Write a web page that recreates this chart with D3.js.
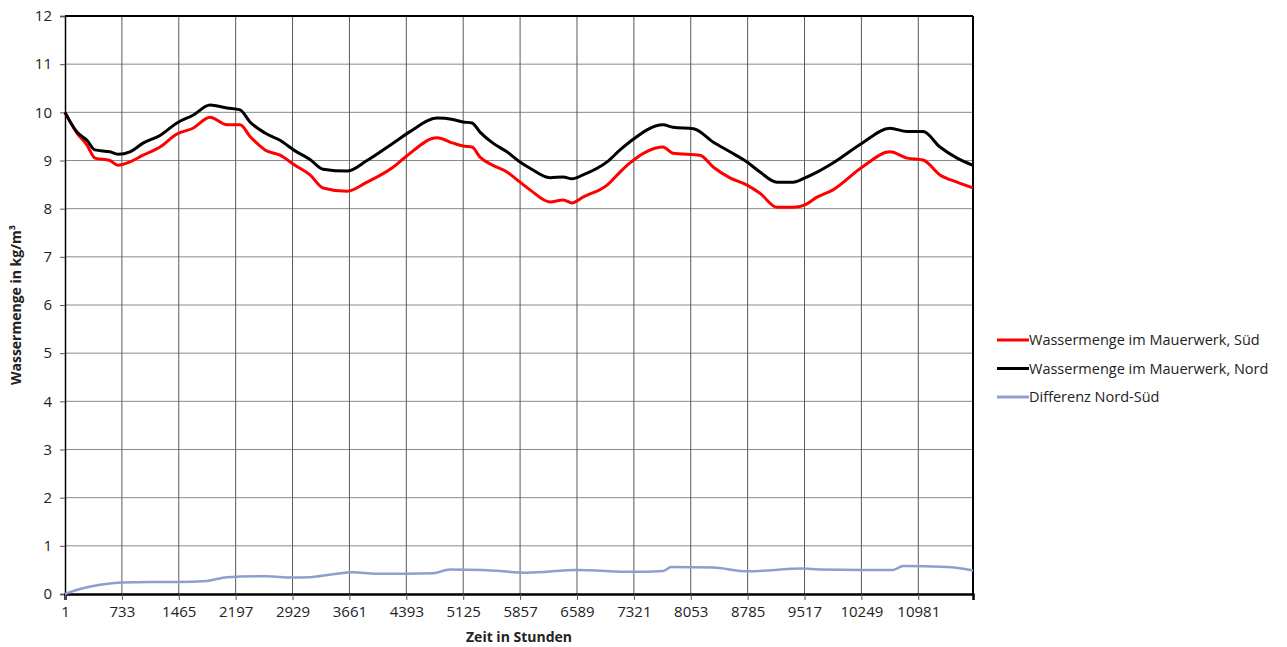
<!DOCTYPE html>
<html lang="de">
  <head>
    <meta charset="UTF-8" />
    <title>Wassermenge im Mauerwerk</title>
    <script src="https://d3js.org/d3.v7.min.js"></script>
    <style>
      body { margin: 0; background: #fff; }
      text { font-family: "Open Sans", "Noto Sans", sans-serif; fill: #222; }
    </style>
  </head>
  <body>
    <script>
      // hours and values
      var hoursSued = [1, 155, 284, 387, 580, 683, 837, 1005, 1223, 1442, 1648, 1867, 2086, 2253, 2382, 2575, 2768, 2961, 3154, 3321, 3630, 3887, 4222, 4402, 4788, 4994, 5122, 5238, 5341, 5508, 5688, 5856, 5985, 6242, 6410, 6525, 6667, 6976, 7143, 7271, 7696, 7825, 8172, 8345, 8558, 8777, 8944, 9163, 9369, 9523, 9678, 9883, 10257, 10617, 10836, 11042, 11260, 11480, 11685];
      var valuesSued = [10.0, 9.57, 9.32, 9.05, 9.0, 8.9, 8.97, 9.11, 9.28, 9.55, 9.67, 9.9, 9.74, 9.74, 9.5, 9.22, 9.11, 8.9, 8.7, 8.43, 8.36, 8.55, 8.86, 9.1, 9.47, 9.36, 9.3, 9.28, 9.07, 8.9, 8.76, 8.55, 8.39, 8.14, 8.18, 8.12, 8.24, 8.49, 8.76, 8.95, 9.28, 9.15, 9.11, 8.86, 8.64, 8.49, 8.32, 8.03, 8.03, 8.08, 8.24, 8.39, 8.86, 9.18, 9.05, 9.01, 8.7, 8.55, 8.43];

      var hoursNord = [1, 155, 284, 387, 580, 683, 837, 1005, 1223, 1442, 1648, 1867, 2086, 2253, 2382, 2575, 2768, 2961, 3154, 3321, 3630, 3887, 4222, 4440, 4788, 4994, 5122, 5238, 5341, 5508, 5688, 5856, 5985, 6242, 6410, 6525, 6667, 6976, 7143, 7271, 7696, 7825, 8090, 8345, 8558, 8777, 8944, 9163, 9369, 9523, 9678, 9883, 10257, 10617, 10836, 11042, 11260, 11480, 11685];
      var valuesNord = [10.0, 9.59, 9.42, 9.22, 9.18, 9.13, 9.18, 9.36, 9.52, 9.78, 9.94, 10.15, 10.09, 10.05, 9.8, 9.57, 9.42, 9.2, 9.02, 8.82, 8.78, 9.0, 9.36, 9.6, 9.88, 9.85, 9.8, 9.78, 9.59, 9.36, 9.18, 8.97, 8.84, 8.64, 8.66, 8.62, 8.7, 8.97, 9.22, 9.39, 9.74, 9.69, 9.66, 9.38, 9.18, 8.97, 8.76, 8.55, 8.55, 8.64, 8.76, 8.95, 9.36, 9.67, 9.6, 9.6, 9.28, 9.05, 8.9];

      var hoursDiff = [1, 65, 232, 451, 733, 1100, 1465, 1828, 2085, 2600, 2922, 3154, 3450, 3708, 4000, 4400, 4737, 4955, 5380, 5946, 6590, 7310, 7700, 7800, 8340, 8777, 9497, 9700, 10270, 10656, 10785, 11350, 11685];
      var valuesDiff = [0, 0.04, 0.12, 0.19, 0.24, 0.25, 0.25, 0.27, 0.35, 0.37, 0.34, 0.35, 0.41, 0.45, 0.42, 0.42, 0.43, 0.51, 0.5, 0.44, 0.5, 0.46, 0.48, 0.56, 0.55, 0.47, 0.53, 0.51, 0.5, 0.5, 0.58, 0.56, 0.49];

      var xTicks = [1, 733, 1465, 2197, 2929, 3661, 4393, 5125, 5857, 6589, 7321, 8053, 8785, 9517, 10249, 10981];
      var yTicks = [0, 1, 2, 3, 4, 5, 6, 7, 8, 9, 10, 11, 12];

      var seriesNames = ["Wassermenge im Mauerwerk, Süd", "Wassermenge im Mauerwerk, Nord", "Differenz Nord-Süd"];
      var seriesColors = ["#ff0000", "#000000", "#8e9fcc"];

      var margin = { top: 16, right: 314, bottom: 53, left: 65 },
        width = 1287 - margin.left - margin.right,
        height = 647 - margin.top - margin.bottom;

      var svg = d3
        .select("body")
        .append("svg")
        .attr("width", 1287)
        .attr("height", 647);

      var g = svg
        .append("g")
        .attr("transform", "translate(" + margin.left + "," + margin.top + ")");

      var x = d3.scaleLinear().domain([1, 11685]).range([0, width]);
      var y = d3.scaleLinear().domain([0, 12]).range([height, 0]);

      // gridlines
      g.append("g")
        .selectAll("line")
        .data(yTicks.slice(1))
        .enter()
        .append("line")
        .attr("x1", 0)
        .attr("x2", width)
        .attr("y1", function (d) { return y(d); })
        .attr("y2", function (d) { return y(d); })
        .attr("stroke", "#8a8a8a")
        .attr("stroke-width", 1);

      g.append("g")
        .selectAll("line")
        .data(xTicks.slice(1))
        .enter()
        .append("line")
        .attr("x1", function (d) { return x(d); })
        .attr("x2", function (d) { return x(d); })
        .attr("y1", 0)
        .attr("y2", height)
        .attr("stroke", "#5a5a5a")
        .attr("stroke-width", 1);

      // frame
      g.append("line").attr("x1", 0).attr("x2", width).attr("y1", 0).attr("y2", 0)
        .attr("stroke", "#000").attr("stroke-width", 2);
      g.append("line").attr("x1", width).attr("x2", width).attr("y1", 0).attr("y2", height)
        .attr("stroke", "#000").attr("stroke-width", 2);

      // axes
      var yAxis = g.append("g").call(
        d3.axisLeft(y).tickValues(yTicks).tickSize(5).tickPadding(8).tickFormat(d3.format("d"))
      );
      yAxis.select(".domain").attr("stroke", "#000").attr("stroke-width", 1.5);
      yAxis.selectAll(".tick line").attr("stroke", "#555");
      yAxis.selectAll(".tick text").style("font-size", "15px").attr("fill", "#222");

      var xAxis = g
        .append("g")
        .attr("transform", "translate(0," + height + ")")
        .call(d3.axisBottom(x).tickValues(xTicks).tickSize(6).tickPadding(6).tickFormat(d3.format("d")));
      xAxis.select(".domain").attr("stroke", "#000").attr("stroke-width", 2.5);
      xAxis.selectAll(".tick line").attr("stroke", "#555");
      xAxis.selectAll(".tick text").style("font-size", "15px").attr("fill", "#222");

      // lines
      function makeData(hours, values) {
        return hours.map(function (h, i) { return { h: h, v: values[i] }; });
      }
      var line = d3
        .line()
        .curve(d3.curveMonotoneX)
        .x(function (d) { return x(d.h); })
        .y(function (d) { return y(d.v); });

      var lineData = [
        { name: seriesNames[2], color: seriesColors[2], width: 2.5, data: makeData(hoursDiff, valuesDiff) },
        { name: seriesNames[0], color: seriesColors[0], width: 3, data: makeData(hoursSued, valuesSued) },
        { name: seriesNames[1], color: seriesColors[1], width: 3, data: makeData(hoursNord, valuesNord) },
      ];

      g.selectAll(".series")
        .data(lineData)
        .enter()
        .append("path")
        .attr("class", "series")
        .attr("fill", "none")
        .attr("stroke", function (d) { return d.color; })
        .attr("stroke-width", function (d) { return d.width; })
        .attr("stroke-linejoin", "round")
        .attr("d", function (d) { return line(d.data); });

      // axis titles
      svg
        .append("text")
        .attr("transform", "translate(21," + (margin.top + height / 2) + ") rotate(-90)")
        .attr("text-anchor", "middle")
        .style("font-size", "14px")
        .style("font-weight", "bold")
        .text("Wassermenge in kg/m³");

      svg
        .append("text")
        .attr("x", margin.left + width / 2)
        .attr("y", 642)
        .attr("text-anchor", "middle")
        .style("font-size", "14px")
        .style("font-weight", "bold")
        .text("Zeit in Stunden");

      // legend
      var legend = svg
        .append("g")
        .attr("transform", "translate(997,340)");

      var items = legend
        .selectAll(".item")
        .data(seriesNames)
        .enter()
        .append("g")
        .attr("class", "item")
        .attr("transform", function (d, i) { return "translate(0," + i * 28.5 + ")"; });

      items
        .append("line")
        .attr("x1", 0)
        .attr("x2", 32)
        .attr("stroke", function (d, i) { return seriesColors[i]; })
        .attr("stroke-width", 3);

      items
        .append("text")
        .attr("x", 32)
        .attr("dy", "0.35em")
        .style("font-size", "14.5px")
        .text(function (d) { return d; });
    </script>
  </body>
</html>
